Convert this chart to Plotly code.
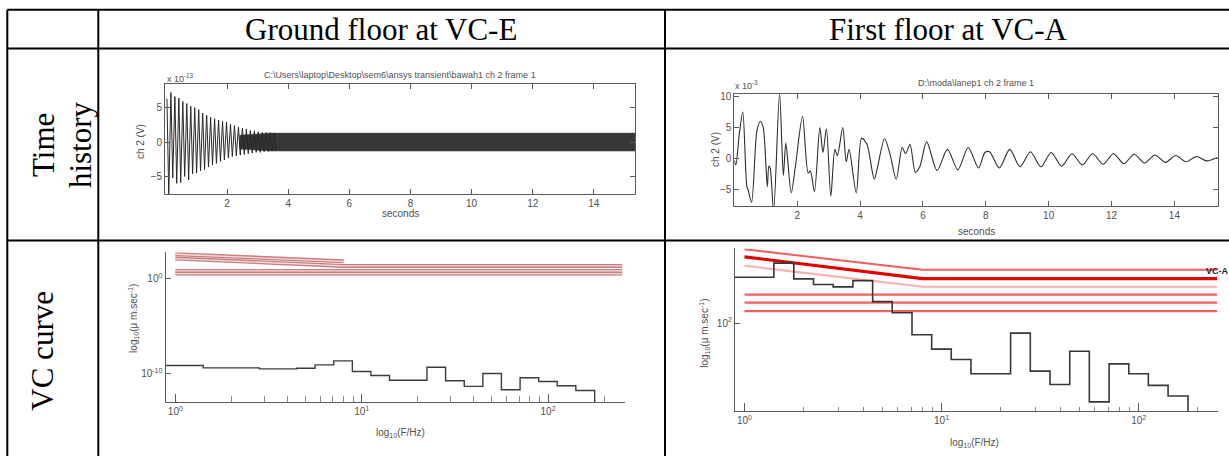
import plotly.graph_objects as go

W, H = 1229, 456

# ---------------- data ----------------
header_labels = ["Ground floor at VC-E", "First floor at VC-A"]
row_labels = [["Time", "history"], ["VC curve"]]

# time history, ground floor (x 1e-13 V)
th1_title = "C:\\Users\\laptop\\Desktop\\sem6\\ansys transient\\bawah1 ch 2 frame 1"
th1_t = [0.03, 0.09, 0.16, 0.22, 0.29, 0.35, 0.42, 0.48, 0.55, 0.61, 0.68, 0.74, 0.81, 0.87,
         0.94, 1.00, 1.07, 1.13, 1.20, 1.26, 1.33, 1.39, 1.46, 1.52, 1.59, 1.65, 1.72, 1.78,
         1.85, 1.91, 1.98, 2.04, 2.11, 2.17, 2.24, 2.30, 2.37, 2.43, 2.50, 2.56, 2.63, 2.69,
         2.76, 2.82, 2.89, 2.95, 3.02, 3.08, 3.15, 3.21, 3.28, 3.34, 3.41, 3.47, 3.54, 3.60]
th1_v = [6.3, -7.8, 7.2, -5.2, 6.6, -6.0, 6.4, -5.9, 5.9, -5.0, 5.6, -5.5, 5.2, -4.6,
         5.0, -4.5, 4.7, -4.2, 4.2, -4.0, 3.9, -3.6, 3.6, -3.3, 3.4, -3.1, 3.2, -2.8,
         3.0, -2.6, 2.9, -2.3, 2.6, -2.1, 2.4, -2.0, 2.2, -1.9, 2.0, -1.8, 1.9, -1.7,
         1.7, -1.6, 1.6, -1.5, 1.5, -1.5, 1.4, -1.4, 1.4, -1.35, 1.35, -1.3, 1.3, -1.3]
th1_band_t = [2.4, 3.4, 15.35]
th1_band_hi = [1.0, 1.3, 1.3]
th1_band_lo = [-1.0, -1.3, -1.3]

# time history, first floor (x 1e-3 V)
th2_title = "D:\\moda\\lanep1 ch 2 frame 1"
th2_t = [0.00, 0.05, 0.16, 0.27, 0.40, 0.44, 0.55, 0.72, 0.83, 0.92, 1.05, 1.10, 1.14, 1.25,
         1.44, 1.56, 1.64, 1.81, 1.95, 2.17, 2.35, 2.42, 2.55, 2.72, 2.82, 2.93, 3.07, 3.20,
         3.28, 3.45, 3.56, 3.65, 3.88, 4.05, 4.22, 4.45, 4.55, 4.78, 4.95, 5.15, 5.34, 5.45,
         5.59, 5.76, 5.90, 6.12, 6.45, 6.78, 7.11, 7.44, 7.77, 7.97, 8.12, 8.43, 8.76, 9.09,
         9.42, 9.75, 10.08, 10.41, 10.74, 11.07, 11.40, 11.73, 12.06, 12.39, 12.72, 13.05,
         13.38, 13.71, 14.04, 14.37, 14.70, 15.03, 15.36]
th2_v = [-0.3, -1.0, 4.0, 7.5, -4.5, -5.0, -7.0, 4.5, 6.0, 5.0, -4.5, -1.2, -1.5, -8.5,
         10.5, -2.7, 2.5, -5.5, -1.0, 6.8, -2.3, -2.0, -5.3, 5.0, 1.0, 4.8, -6.0, 1.5,
         0.5, 5.0, -0.5, 1.5, -5.5, 3.3, 2.3, -3.3, -1.5, 3.2, 0.8, -3.3, 1.8, 0.8,
         2.3, -2.2, -1.3, 2.7, -1.9, 1.5, -1.8, 1.8, -1.5, 1.0, 1.1, -1.5, 1.5, -1.3,
         1.1, -1.3, 1.0, -1.2, 0.8, -1.0, 0.8, -0.9, 0.8, -0.8, 0.7, -0.7,
         0.6, -0.6, 0.5, -0.5, 0.35, -0.35, 0.2]
time_ticks = [2, 4, 6, 8, 10, 12, 14]

# VC curves: 1/3-octave band edges (Hz) and log10 velocity levels
vc_e_edges = [0.891, 1.41, 2.82, 4.47, 5.62, 7.08, 8.91, 11.2, 14.1, 22.4, 28.2, 35.5,
              44.7, 56.2, 70.8, 89.1, 112, 141, 178]
vc_e_level = [-9.16, -9.40, -9.51, -9.45, -9.09, -8.67, -9.79, -10.21, -10.70, -9.34,
              -10.76, -11.35, -10.00, -11.70, -10.45, -10.84, -11.29, -11.78]
vc_e_floor = -13.0

vc_a_edges = [0.891, 1.41, 1.78, 2.24, 2.82, 3.55, 4.47, 5.62, 7.08, 8.91, 11.2, 14.1,
              22.4, 28.2, 35.5, 44.7, 56.2, 70.8, 89.1, 112, 141, 178]
vc_a_level = [3.90, 4.48, 3.83, 3.60, 3.50, 3.76, 2.89, 2.43, 1.52, 0.93, 0.50, -0.09,
              1.59, 0.02, -0.53, 0.84, -1.25, 0.32, -0.09, -0.57, -1.01]
vc_a_floor = -1.64

# criterion lines (frequency Hz, log10 level)
crit_e_f = [[1, 8], [1, 8, 250], [1, 250]]
crit_e_v = [[2.55, 1.81], [2.10, 1.32, 1.32], [0.66, 0.66]]
crit_e_inner = [[0.80, 0.80], [0.52, 0.52]]

crit_a_f = [[1, 8, 250], [1, 8, 250], [1, 8, 250], [1, 250], [1, 250], [1, 250]]
crit_a_v = [[5.05, 4.21, 4.21], [4.74, 3.84, 3.84], [4.37, 3.50, 3.50],
            [3.18, 3.18], [2.85, 2.85], [2.50, 2.50]]
crit_a_names = ["", "VC-A", "", "", "", ""]

major_hz = [1, 10, 100]
major_lbl = ["10<sup>0</sup>", "10<sup>1</sup>", "10<sup>2</sup>"]
minor_hz = [2, 3, 4, 5, 6, 7, 8, 9, 20, 30, 40, 50, 60, 70, 80, 90, 200]

# ---------------- layout helpers ----------------
def fx(p):
    return p / W


def fy(p):
    return 1 - p / H


def dom_x(a, b):
    return [fx(a), fx(b)]


def dom_y(top, bottom):
    return [fy(bottom), fy(top)]


GRAY = "#5a5a5a"
TXT = "#505050"
SMALL = dict(family="Liberation Sans, Arial", size=10, color=TXT)
SERIF = dict(family="Liberation Serif, Times New Roman", size=31, color="black")

fig = go.Figure()

# ----- time history ground floor -----
band_x = th1_band_t + th1_band_t[::-1]
band_y = th1_band_hi + th1_band_lo[::-1]
fig.add_trace(go.Scatter(x=band_x, y=band_y, fill="toself", fillcolor="rgb(55,55,55)",
                         line=dict(width=0.6, color="rgb(80,80,80)"), mode="lines",
                         xaxis="x", yaxis="y", hoverinfo="skip"))
fig.add_trace(go.Scatter(x=th1_t, y=th1_v, mode="lines",
                         line=dict(color="rgb(40,40,40)", width=1),
                         xaxis="x", yaxis="y"))

# ----- time history first floor -----
fig.add_trace(go.Scatter(x=th2_t, y=th2_v, mode="lines",
                         line=dict(color="rgb(45,45,45)", width=1.1, shape="spline", smoothing=0.8),
                         xaxis="x2", yaxis="y2"))

# ----- VC curve ground floor -----
for f, v in zip(crit_e_f, crit_e_v):
    wide = len(f) == 2 and v[0] < 1
    fig.add_trace(go.Scatter(x=f, y=[10 ** a for a in v], mode="lines",
                             line=dict(color="rgb(200,125,125)", width=6.5 if wide else 4),
                             xaxis="x3", yaxis="y3"))
    if not wide:
        fig.add_trace(go.Scatter(x=f, y=[10 ** a for a in v], mode="lines",
                                 line=dict(color="rgb(246,222,222)", width=1.3),
                                 xaxis="x3", yaxis="y3"))
for v in crit_e_inner:
    fig.add_trace(go.Scatter(x=crit_e_f[2], y=[10 ** a for a in v], mode="lines",
                             line=dict(color="rgb(246,222,222)", width=1.2),
                             xaxis="x3", yaxis="y3"))

ex = list(vc_e_edges) + [vc_e_edges[-1], vc_e_edges[-1]]
ey = [10 ** a for a in vc_e_level] + [10 ** vc_e_level[-1], 10 ** vc_e_floor]
fig.add_trace(go.Scatter(x=ex[:len(ey)], y=ey, mode="lines",
                         line=dict(color="rgb(60,60,60)", width=1.4, shape="hv"),
                         xaxis="x3", yaxis="y3"))

# ----- VC curve first floor -----
a_styles = [("rgb(240,95,95)", 2), ("rgb(225,0,0)", 3.2), ("rgb(255,175,175)", 2),
            ("rgb(245,95,95)", 2.2), ("rgb(245,95,95)", 2.2), ("rgb(245,95,95)", 2.2)]
for (f, v), (c, w) in zip(zip(crit_a_f, crit_a_v), a_styles):
    fig.add_trace(go.Scatter(x=f, y=[10 ** a for a in v], mode="lines",
                             line=dict(color=c, width=w), xaxis="x4", yaxis="y4"))

ax_ = list(vc_a_edges) + [vc_a_edges[-1], vc_a_edges[-1]]
ay_ = [10 ** a for a in vc_a_level] + [10 ** vc_a_level[-1], 10 ** vc_a_floor]
fig.add_trace(go.Scatter(x=ax_[:len(ay_)], y=ay_, mode="lines",
                         line=dict(color="rgb(55,55,55)", width=1.6, shape="hv"),
                         xaxis="x4", yaxis="y4"))

# ---------------- axes ----------------
def th_xaxis(dom, rng, anchor):
    return dict(domain=dom, range=rng, tickvals=time_ticks, ticks="inside", ticklen=5,
                tickcolor=GRAY, showline=True, linecolor=GRAY, linewidth=1, mirror="ticks",
                showgrid=False, zeroline=False, tickfont=SMALL, anchor=anchor)


def th_yaxis(dom, rng, vals, anchor):
    return dict(domain=dom, range=rng, tickvals=vals, ticks="inside", ticklen=5,
                tickcolor=GRAY, showline=True, linecolor=GRAY, linewidth=1, mirror="ticks",
                showgrid=False, zeroline=False, tickfont=SMALL, anchor=anchor)


def vc_xaxis(dom, rng, anchor, minor_len):
    return dict(domain=dom, range=rng, type="log", tickvals=major_hz, ticktext=major_lbl,
                ticks="inside", ticklen=8, tickcolor=GRAY, showline=True, linecolor=GRAY,
                linewidth=1.2, showgrid=False, zeroline=False, tickfont=SMALL, anchor=anchor,
                minor=dict(tickvals=minor_hz, ticks="inside", ticklen=minor_len,
                           tickcolor="#8a8a8a", showgrid=False))


def vc_yaxis(dom, rng, vals, text, anchor):
    return dict(domain=dom, range=rng, type="log", tickvals=vals, ticktext=text,
                ticks="inside", ticklen=5, tickcolor=GRAY, showline=True, linecolor=GRAY,
                linewidth=1.2, showgrid=False, zeroline=False, tickfont=SMALL, anchor=anchor)


fig.update_layout(
    width=W, height=H, autosize=False, showlegend=False,
    margin=dict(l=0, r=0, t=0, b=0), paper_bgcolor="white", plot_bgcolor="white",
    xaxis=th_xaxis(dom_x(165.1, 635.1), [-0.03, 15.35], "y"),
    yaxis=th_yaxis(dom_y(81.7, 192.3), [-7.55, 8.41], [-5, 0, 5], "x"),
    xaxis2=th_xaxis(dom_x(734.3, 1217.5), [0, 15.37], "y2"),
    yaxis2=th_yaxis(dom_y(92, 204.3), [-7.59, 10.32], [-5, 0, 5, 10], "x2"),
    xaxis3=vc_xaxis(dom_x(165.5, 624.8), [-0.053, 2.412], "y3", 6),
    yaxis3=vc_yaxis(dom_y(251, 401.7), [-13.0, 2.75], [1, 1e-10],
                    ["10<sup>0</sup>", "10<sup>-10</sup>"], "x3"),
    xaxis4=vc_xaxis(dom_x(735, 1217.5), [-0.048, 2.40], "y4", 4),
    yaxis4=vc_yaxis(dom_y(247, 411), [-1.64, 5.09], [100], ["10<sup>2</sup>"], "x4"),
)

# ---------------- table frame ----------------
shapes = []
line = dict(color="black", width=2)
for yy in [6.7, 45.7, 239]:
    shapes.append(dict(type="line", xref="paper", yref="paper", x0=fx(7.3), x1=fx(1240),
                       y0=fy(yy), y1=fy(yy), line=line))
for xx in [7.3, 98.3, 665, 1231]:
    shapes.append(dict(type="line", xref="paper", yref="paper", x0=fx(xx), x1=fx(xx),
                       y0=fy(6.7), y1=fy(470), line=line))
fig.update_layout(shapes=shapes)

# ---------------- text ----------------
ann = []


def add_text(text, x, y, font, angle=0, xa="center", ya="middle"):
    ann.append(dict(text=text, x=fx(x), y=fy(y), xref="paper", yref="paper",
                    showarrow=False, font=font, textangle=angle, xanchor=xa, yanchor=ya))


add_text(header_labels[0], 381.5, 27, SERIF)
add_text(header_labels[1], 948, 27, SERIF)
add_text(row_labels[0][0], 43, 143, SERIF, angle=-90)
add_text(row_labels[0][1], 80, 143, SERIF, angle=-90)
add_text(row_labels[1][0], 43, 350, SERIF, angle=-90)

small9 = dict(family="Liberation Sans, Arial", size=9, color=TXT)
add_text(th1_title, 400, 72, small9)
add_text(th2_title, 976, 81, small9)
add_text("x 10<sup>-13</sup>", 165, 75, small9, xa="left")
add_text("x 10<sup>-3</sup>", 733, 83, small9, xa="left")
add_text("seconds", 400, 212, SMALL)
add_text("seconds", 976, 230, SMALL)
add_text("ch 2 (V)", 140, 140, SMALL, angle=-90)
add_text("ch 2 (V)", 715, 148, SMALL, angle=-90)
add_text("log<sub>10</sub>(F/Hz)", 400, 433, SMALL)
add_text("log<sub>10</sub>(F/Hz)", 974, 443, SMALL)
add_text("log<sub>10</sub>(μ m.sec<sup>-1</sup>)", 134, 318, SMALL, angle=-90)
add_text("log<sub>10</sub>(μ m.sec<sup>-1</sup>)", 705, 333, SMALL, angle=-90)
for name, v in zip(crit_a_names, crit_a_v):
    if name:
        ann.append(dict(text="<b>" + name + "</b>", x=1, xref="x4 domain", y=v[-1], yref="y4",
                        showarrow=False, yshift=8, xanchor="center", yanchor="middle",
                        font=dict(family="Liberation Sans, Arial", size=9, color="#222")))
fig.update_layout(annotations=ann)

fig.write_html("out.html", config={"displayModeBar": False},
               post_script="document.body.style.margin='0';document.body.style.overflow='hidden';")
